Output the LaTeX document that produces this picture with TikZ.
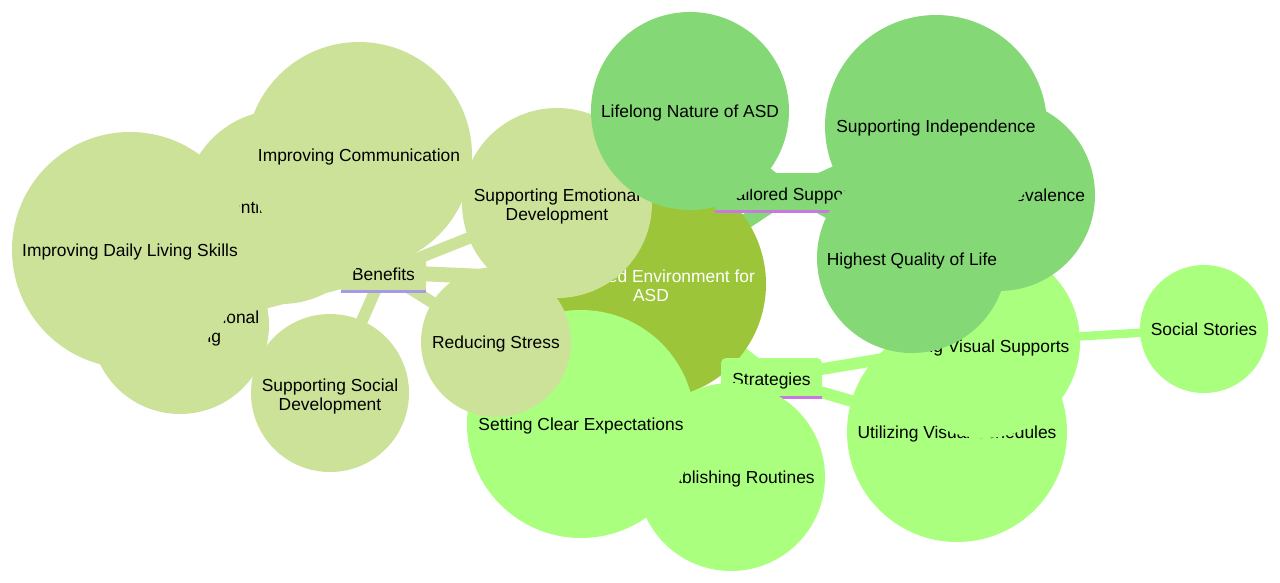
\documentclass[tikz,border=0pt]{standalone}
\usepackage{fontspec}
\setmainfont{Liberation Sans}
\pgfdeclarelayer{bg}
\pgfdeclarelayer{edges}
\pgfsetlayers{bg,edges,main}
\definecolor{rootc}{RGB}{157,197,57}
\definecolor{benc}{RGB}{205,226,153}
\definecolor{taic}{RGB}{133,216,118}
\definecolor{strc}{RGB}{171,255,127}
\definecolor{benl}{RGB}{166,153,230}
\definecolor{tail}{RGB}{200,120,222}
\newcommand\tl{\rule{0pt}{19pt}}
\begin{document}
\begin{tikzpicture}[x=1pt,y=-1pt,
  mm/.style={circle, inner sep=0pt, align=center, font=\fontsize{17.4}{19}\selectfont, text=black,
    execute at begin node=\rule{0pt}{17pt}, execute at end node=\rule[-4pt]{0pt}{4pt}},
  rootnode/.style={mm, fill=rootc, text=white},
  bnode/.style={mm, fill=benc},
  tnode/.style={mm, fill=taic},
  snode/.style={mm, fill=strc},
  rbox/.style={rectangle, rounded corners=5pt, inner sep=0pt, minimum height=38pt, font=\fontsize{17.4}{19}\selectfont, text=black,
    execute at begin node=\rule{0pt}{20pt}, execute at end node=\rule[-4pt]{0pt}{4pt}},
  e0/.style={line width=15pt},
  e1/.style={line width=11.7pt},
  e2/.style={line width=8.5pt}]
\begin{pgfonlayer}{bg}
\fill[white] (0,0) rectangle (1280,582);
\end{pgfonlayer}
\useasboundingbox (0,0) rectangle (1280,582);

% root
\node[rootnode, minimum size=230pt] (root) at (651,284) {\tl Structured Environment for\\ASD};

% Strategies section
\node[rbox, fill=strc, minimum width=101pt, minimum height=39pt] (str) at (771.5,377.5) {Strategies};
\fill[strc] (str.south west) rectangle ++(6,-6);
\fill[strc] (str.south east) rectangle ++(-6,-6);
\draw[tail, line width=3pt] (str.south west) -- (str.south east);
\node[snode, minimum size=188pt] (rout) at (731,477) {Establishing Routines};
\node[snode, minimum size=228pt] (setc) at (581,424) {Setting Clear Expectations};
\node[snode, minimum size=220pt] (util) at (957,432) {Utilizing Visual Schedules};
\node[snode, minimum size=192pt, execute at begin node=\rule{0pt}{24pt}] (usev) at (984,342) {Using Visual Supports};
\node[snode, minimum size=128pt] (soc) at (1204,329) {Social Stories};

% Benefits section
\node[rbox, fill=benc, minimum width=85pt] (ben) at (383.5,272) {Benefits};
\fill[benc] (ben.south west) rectangle ++(6,-6);
\fill[benc] (ben.south east) rectangle ++(-6,-6);
\draw[benl, line width=3pt] (ben.south west) -- (ben.south east);
\node[bnode, minimum size=194pt] (prev) at (281,207) {Preventing Meltdowns};
\node[bnode, minimum size=178pt] (emo) at (180,325) {\tl Improving Emotional\\Well-being};
\node[bnode, minimum size=236pt] (daily) at (130,250) {Improving Daily Living Skills};
\node[bnode, minimum size=226pt] (comm) at (359,155) {Improving Communication};
\node[bnode, minimum size=158pt] (sdev) at (330,393) {\tl Supporting Social\\Development};
\node[bnode, minimum size=190pt] (edev) at (557,203) {\tl Supporting Emotional\\Development};
\node[bnode, minimum size=150pt] (red) at (496,342) {Reducing Stress};

% Tailored Support section
\node[rbox, fill=taic, minimum width=151pt] (tai) at (790.5,192) {Tailored Support};
\fill[taic] (tai.south west) rectangle ++(6,-6);
\fill[taic] (tai.south east) rectangle ++(-6,-6);
\draw[tail, line width=3pt] (tai.south west) -- (tai.south east);
\node[tnode, minimum size=198pt] (life) at (690,111) {Lifelong Nature of ASD};
\node[tnode, minimum size=192pt] (incp) at (999,195) {Increasing Prevalence};
\node[tnode, minimum size=222pt] (ind) at (936,126) {Supporting Independence};
\node[tnode, minimum size=190pt, execute at begin node=\rule{0pt}{19pt}] (high) at (912,258) {Highest Quality of Life};

% connectors
\begin{pgfonlayer}{edges}
\draw[e0, benc] (root.center) -- (ben.center);
\draw[e0, strc] (root.center) -- (str.center);
\draw[e0, taic] (root.center) -- (tai.center);
\foreach \c in {prev,emo,daily,comm,sdev,edev,red}
  \draw[e1, benc] (ben.center) -- (\c.center);
\foreach \c in {rout,setc,util,usev}
  \draw[e1, strc] (str.center) -- (\c.center);
\draw[e2, strc] (usev.center) -- (soc.center);
\foreach \c in {life,incp,ind,high}
  \draw[e1, taic] (tai.center) -- (\c.center);
\end{pgfonlayer}
\end{tikzpicture}
\end{document}
